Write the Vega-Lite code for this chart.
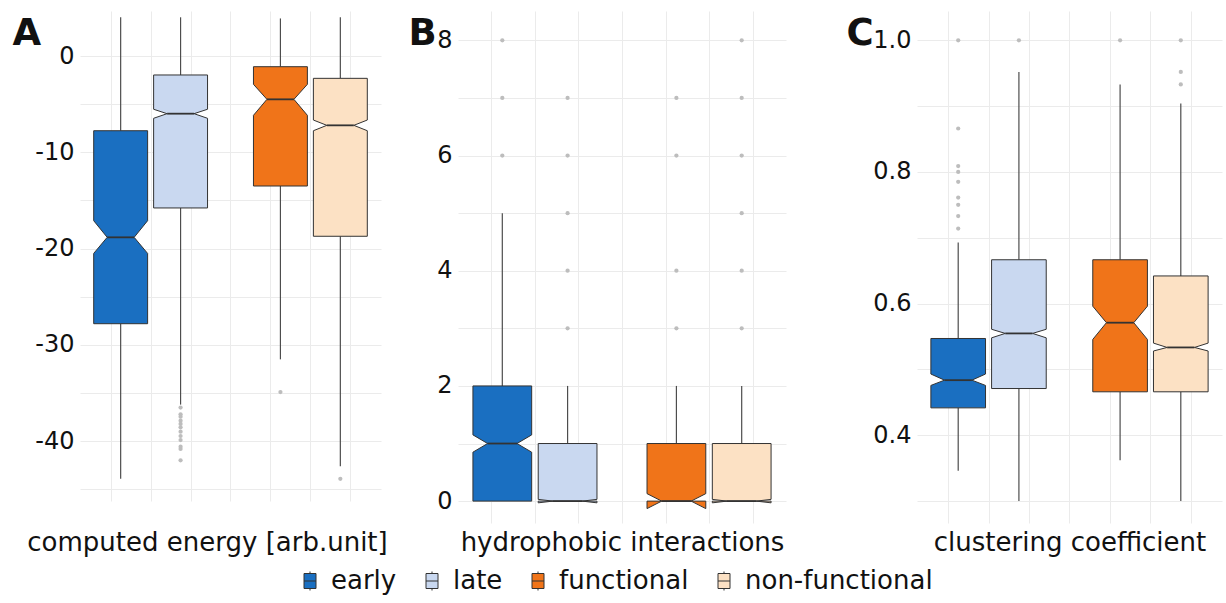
{
"$schema":"https://vega.github.io/schema/vega-lite/v6.json",
"padding":{"left":12,"top":11,"right":4,"bottom":4},
"datasets":{
"boxes":[
{"metric":"energy","group":"early","lo":-43.9,"q1":-27.8,"nlo":-20.5,"med":-18.83,"nhi":-17.1,"q3":-7.76,"hi":4.02},
{"metric":"energy","group":"late","lo":-36.2,"q1":-15.78,"nlo":-6.47,"med":-5.99,"nhi":-5.53,"q3":-1.97,"hi":4.02},
{"metric":"energy","group":"functional","lo":-31.5,"q1":-13.5,"nlo":-6.16,"med":-4.5,"nhi":-2.94,"q3":-1.11,"hi":3.9},
{"metric":"energy","group":"non-functional","lo":-42.6,"q1":-18.72,"nlo":-7.76,"med":-7.2,"nhi":-6.65,"q3":-2.32,"hi":4.02},
{"metric":"hydro","group":"early","lo":0,"q1":0,"nlo":0.85,"med":1,"nhi":1.15,"q3":2,"hi":5},
{"metric":"hydro","group":"late","lo":0,"q1":0,"nlo":-0.03,"med":0,"nhi":0.03,"q3":1,"hi":2},
{"metric":"hydro","group":"functional","lo":0,"q1":0,"nlo":-0.13,"med":0,"nhi":0.13,"q3":1,"hi":2},
{"metric":"hydro","group":"non-functional","lo":0,"q1":0,"nlo":-0.03,"med":0,"nhi":0.03,"q3":1,"hi":2},
{"metric":"cluster","group":"early","lo":0.346,"q1":0.4416,"nlo":0.4757,"med":0.4837,"nhi":0.493,"q3":0.547,"hi":0.693},
{"metric":"cluster","group":"late","lo":0.3,"q1":0.471,"nlo":0.548,"med":0.5547,"nhi":0.561,"q3":0.6666,"hi":0.952},
{"metric":"cluster","group":"functional","lo":0.362,"q1":0.466,"nlo":0.5456,"med":0.571,"nhi":0.596,"q3":0.6666,"hi":0.933},
{"metric":"cluster","group":"non-functional","lo":0.3,"q1":0.466,"nlo":0.528,"med":0.5334,"nhi":0.54,"q3":0.642,"hi":0.904}
],
"outliers":[
{"metric":"energy","group":"late","value":-36.51},{"metric":"energy","group":"late","value":-37.21},{"metric":"energy","group":"late","value":-37.45},{"metric":"energy","group":"late","value":-37.87},{"metric":"energy","group":"late","value":-38.21},{"metric":"energy","group":"late","value":-38.56},{"metric":"energy","group":"late","value":-39.01},{"metric":"energy","group":"late","value":-39.46},{"metric":"energy","group":"late","value":-39.88},{"metric":"energy","group":"late","value":-40.57},{"metric":"energy","group":"late","value":-40.81},{"metric":"energy","group":"late","value":-41.98},
{"metric":"energy","group":"functional","value":-34.9},
{"metric":"energy","group":"non-functional","value":-43.9},
{"metric":"hydro","group":"early","value":6},{"metric":"hydro","group":"early","value":7},{"metric":"hydro","group":"early","value":8},
{"metric":"hydro","group":"late","value":3},{"metric":"hydro","group":"late","value":4},{"metric":"hydro","group":"late","value":5},{"metric":"hydro","group":"late","value":6},{"metric":"hydro","group":"late","value":7},
{"metric":"hydro","group":"functional","value":3},{"metric":"hydro","group":"functional","value":4},{"metric":"hydro","group":"functional","value":6},{"metric":"hydro","group":"functional","value":7},
{"metric":"hydro","group":"non-functional","value":3},{"metric":"hydro","group":"non-functional","value":4},{"metric":"hydro","group":"non-functional","value":5},{"metric":"hydro","group":"non-functional","value":6},{"metric":"hydro","group":"non-functional","value":7},{"metric":"hydro","group":"non-functional","value":8},
{"metric":"cluster","group":"early","value":0.714},{"metric":"cluster","group":"early","value":0.733},{"metric":"cluster","group":"early","value":0.75},{"metric":"cluster","group":"early","value":0.761},{"metric":"cluster","group":"early","value":0.785},{"metric":"cluster","group":"early","value":0.8},{"metric":"cluster","group":"early","value":0.809},{"metric":"cluster","group":"early","value":0.866},{"metric":"cluster","group":"early","value":1.0},
{"metric":"cluster","group":"late","value":1.0},
{"metric":"cluster","group":"functional","value":1.0},
{"metric":"cluster","group":"non-functional","value":0.933},{"metric":"cluster","group":"non-functional","value":0.952},{"metric":"cluster","group":"non-functional","value":1.0}
]
},
"hconcat":[
{
"width":301,"height":490,
"layer":[
{"data":{"name":"boxes"},"transform":[{"filter":"datum.metric === 'energy'"},{"calculate":"[1.125,1.875,3.125,3.875][indexof(['early','late','functional','non-functional'], datum.group)]","as":"pos"}],
"mark":{"type":"rule","color":"#4d4d4d","strokeWidth":1.2},
"encoding":{"x":{"field":"pos","type":"quantitative","scale":{"domain":[0.616,4.384],"nice":false,"zero":false},"axis":{"title":"computed energy [arb.unit]","labels":false,"values":[1,1.5,2,2.5,3,3.5,4],"titlePadding":28,"titleX":127}},
"y":{"field":"lo","type":"quantitative","scale":{"domain":[-46.21,4.673],"nice":false,"zero":false},"axis":{"title":"A","titleAngle":0,"titleAlign":"left","titleBaseline":"alphabetic","titleX":-68,"titleY":33,"titleFontSize":37,"titleFontWeight":"bold","values":[-45,-40,-35,-30,-25,-20,-15,-10,-5,0],"labelExpr":"datum.value % 10 === 0 ? '' + datum.value : ''","labelPadding":6}},
"y2":{"field":"q1"}}},
{"data":{"name":"boxes"},"transform":[{"filter":"datum.metric === 'energy'"},{"calculate":"[1.125,1.875,3.125,3.875][indexof(['early','late','functional','non-functional'], datum.group)]","as":"pos"}],
"mark":{"type":"rule","color":"#4d4d4d","strokeWidth":1.2},
"encoding":{"x":{"field":"pos","type":"quantitative"},"y":{"field":"q3","type":"quantitative"},"y2":{"field":"hi"}}},
{"data":{"name":"boxes"},"transform":[{"filter":"datum.metric === 'energy'"},{"calculate":"[1.125,1.875,3.125,3.875][indexof(['early','late','functional','non-functional'], datum.group)]","as":"pos"},{"fold":["q1","nlo","med","nhi","q3"],"as":["k","v"]},{"calculate":"datum.pos - 0.3375 * (datum.k === 'med' ? 0.5 : 1)","as":"xl"},{"calculate":"datum.pos + 0.3375 * (datum.k === 'med' ? 0.5 : 1)","as":"xr"}],
"mark":{"type":"area","orient":"horizontal","stroke":"#333","strokeWidth":1,"fillOpacity":1},
"encoding":{"y":{"field":"v","type":"quantitative"},"x":{"field":"xl","type":"quantitative"},"x2":{"field":"xr"},"order":{"value":null},
"fill":{"field":"group","type":"nominal","scale":{"domain":["early","late","functional","non-functional"],"range":["#1a6fc1","#c9d8f0","#f07419","#fce1c4"]},"legend":{"title":null,"orient":"none","legendX":217,"legendY":557,"direction":"horizontal","columns":4,"symbolType":"M-0.6,-0.75H0.6V0.75H-0.6Z M0,-0.75V-0.95 M0,0.75V0.95 M-0.6,0H0.6","symbolSize":400,"symbolStrokeColor":"#333","symbolStrokeWidth":1,"labelFontSize":26,"labelOffset":8,"columnPadding":22,"labelLimit":400}}}},
{"data":{"name":"boxes"},"transform":[{"filter":"datum.metric === 'energy'"},{"calculate":"[1.125,1.875,3.125,3.875][indexof(['early','late','functional','non-functional'], datum.group)]","as":"pos"},{"calculate":"datum.pos - 0.16875","as":"ml"},{"calculate":"datum.pos + 0.16875","as":"mr"}],
"mark":{"type":"rule","color":"#333","strokeWidth":1.8},
"encoding":{"x":{"field":"ml","type":"quantitative"},"x2":{"field":"mr"},"y":{"field":"med","type":"quantitative"}}},
{"data":{"name":"outliers"},"transform":[{"filter":"datum.metric === 'energy'"},{"calculate":"[1.125,1.875,3.125,3.875][indexof(['early','late','functional','non-functional'], datum.group)]","as":"pos"}],
"mark":{"type":"circle","color":"#bdbdbd","size":18,"opacity":1},
"encoding":{"x":{"field":"pos","type":"quantitative"},"y":{"field":"value","type":"quantitative"}}}
]
},
{
"spacing":131,"bounds":"flush",
"hconcat":[
{
"width":328,"height":512,
"layer":[
{"data":{"name":"boxes"},"transform":[{"filter":"datum.metric === 'hydro'"},{"calculate":"[1.125,1.875,3.125,3.875][indexof(['early','late','functional','non-functional'], datum.group)]","as":"pos"}],
"mark":{"type":"rule","color":"#4d4d4d","strokeWidth":1.2},
"encoding":{"x":{"field":"pos","type":"quantitative","scale":{"domain":[0.616,4.384],"nice":false,"zero":false},"axis":{"title":"hydrophobic interactions","labels":false,"values":[1,1.5,2,2.5,3,3.5,4],"titlePadding":6}},
"y":{"field":"lo","type":"quantitative","scale":{"domain":[-0.38,8.51],"nice":false,"zero":false},"axis":{"title":"B","titleAngle":0,"titleAlign":"left","titleBaseline":"alphabetic","titleX":-50,"titleY":33,"titleFontSize":37,"titleFontWeight":"bold","values":[0,1,2,3,4,5,6,7,8],"labelExpr":"datum.value % 2 === 0 ? '' + datum.value : ''","labelPadding":6}},
"y2":{"field":"q1"}}},
{"data":{"name":"boxes"},"transform":[{"filter":"datum.metric === 'hydro'"},{"calculate":"[1.125,1.875,3.125,3.875][indexof(['early','late','functional','non-functional'], datum.group)]","as":"pos"}],
"mark":{"type":"rule","color":"#4d4d4d","strokeWidth":1.2},
"encoding":{"x":{"field":"pos","type":"quantitative"},"y":{"field":"q3","type":"quantitative"},"y2":{"field":"hi"}}},
{"data":{"name":"boxes"},"transform":[{"filter":"datum.metric === 'hydro'"},{"calculate":"[1.125,1.875,3.125,3.875][indexof(['early','late','functional','non-functional'], datum.group)]","as":"pos"},{"fold":["q1","nlo","med","nhi","q3"],"as":["k","v"]},{"calculate":"datum.pos - 0.3375 * (datum.k === 'med' ? 0.5 : 1)","as":"xl"},{"calculate":"datum.pos + 0.3375 * (datum.k === 'med' ? 0.5 : 1)","as":"xr"}],
"mark":{"type":"area","orient":"horizontal","stroke":"#333","strokeWidth":1,"fillOpacity":1},
"encoding":{"y":{"field":"v","type":"quantitative"},"x":{"field":"xl","type":"quantitative"},"x2":{"field":"xr"},"order":{"value":null},
"fill":{"field":"group","type":"nominal","scale":{"domain":["early","late","functional","non-functional"],"range":["#1a6fc1","#c9d8f0","#f07419","#fce1c4"]},"legend":{"title":null,"orient":"none","legendX":217,"legendY":557,"direction":"horizontal","columns":4,"symbolType":"M-0.6,-0.75H0.6V0.75H-0.6Z M0,-0.75V-0.95 M0,0.75V0.95 M-0.6,0H0.6","symbolSize":400,"symbolStrokeColor":"#333","symbolStrokeWidth":1,"labelFontSize":26,"labelOffset":8,"columnPadding":22,"labelLimit":400}}}},
{"data":{"name":"boxes"},"transform":[{"filter":"datum.metric === 'hydro'"},{"calculate":"[1.125,1.875,3.125,3.875][indexof(['early','late','functional','non-functional'], datum.group)]","as":"pos"},{"calculate":"datum.pos - 0.16875","as":"ml"},{"calculate":"datum.pos + 0.16875","as":"mr"}],
"mark":{"type":"rule","color":"#333","strokeWidth":1.8},
"encoding":{"x":{"field":"ml","type":"quantitative"},"x2":{"field":"mr"},"y":{"field":"med","type":"quantitative"}}},
{"data":{"name":"outliers"},"transform":[{"filter":"datum.metric === 'hydro'"},{"calculate":"[1.125,1.875,3.125,3.875][indexof(['early','late','functional','non-functional'], datum.group)]","as":"pos"}],
"mark":{"type":"circle","color":"#bdbdbd","size":18,"opacity":1},
"encoding":{"x":{"field":"pos","type":"quantitative"},"y":{"field":"value","type":"quantitative"}}}
]
},
{
"width":305,"height":512,
"layer":[
{"data":{"name":"boxes"},"transform":[{"filter":"datum.metric === 'cluster'"},{"calculate":"[1.125,1.875,3.125,3.875][indexof(['early','late','functional','non-functional'], datum.group)]","as":"pos"}],
"mark":{"type":"rule","color":"#4d4d4d","strokeWidth":1.2},
"encoding":{"x":{"field":"pos","type":"quantitative","scale":{"domain":[0.616,4.384],"nice":false,"zero":false},"axis":{"title":"clustering coefficient","labels":false,"values":[1,1.5,2,2.5,3,3.5,4],"titlePadding":6}},
"y":{"field":"lo","type":"quantitative","scale":{"domain":[0.2667,1.0445],"nice":false,"zero":false},"axis":{"title":"C","titleAngle":0,"titleAlign":"left","titleBaseline":"alphabetic","titleX":-71,"titleY":33,"titleFontSize":37,"titleFontWeight":"bold","values":[0.3,0.4,0.5,0.6,0.7,0.8,0.9,1.0],"labelExpr":"round(datum.value * 10) % 2 === 0 ? format(datum.value, '.1f') : ''","labelPadding":6}},
"y2":{"field":"q1"}}},
{"data":{"name":"boxes"},"transform":[{"filter":"datum.metric === 'cluster'"},{"calculate":"[1.125,1.875,3.125,3.875][indexof(['early','late','functional','non-functional'], datum.group)]","as":"pos"}],
"mark":{"type":"rule","color":"#4d4d4d","strokeWidth":1.2},
"encoding":{"x":{"field":"pos","type":"quantitative"},"y":{"field":"q3","type":"quantitative"},"y2":{"field":"hi"}}},
{"data":{"name":"boxes"},"transform":[{"filter":"datum.metric === 'cluster'"},{"calculate":"[1.125,1.875,3.125,3.875][indexof(['early','late','functional','non-functional'], datum.group)]","as":"pos"},{"fold":["q1","nlo","med","nhi","q3"],"as":["k","v"]},{"calculate":"datum.pos - 0.3375 * (datum.k === 'med' ? 0.5 : 1)","as":"xl"},{"calculate":"datum.pos + 0.3375 * (datum.k === 'med' ? 0.5 : 1)","as":"xr"}],
"mark":{"type":"area","orient":"horizontal","stroke":"#333","strokeWidth":1,"fillOpacity":1},
"encoding":{"y":{"field":"v","type":"quantitative"},"x":{"field":"xl","type":"quantitative"},"x2":{"field":"xr"},"order":{"value":null},
"fill":{"field":"group","type":"nominal","scale":{"domain":["early","late","functional","non-functional"],"range":["#1a6fc1","#c9d8f0","#f07419","#fce1c4"]},"legend":{"title":null,"orient":"none","legendX":217,"legendY":557,"direction":"horizontal","columns":4,"symbolType":"M-0.6,-0.75H0.6V0.75H-0.6Z M0,-0.75V-0.95 M0,0.75V0.95 M-0.6,0H0.6","symbolSize":400,"symbolStrokeColor":"#333","symbolStrokeWidth":1,"labelFontSize":26,"labelOffset":8,"columnPadding":22,"labelLimit":400}}}},
{"data":{"name":"boxes"},"transform":[{"filter":"datum.metric === 'cluster'"},{"calculate":"[1.125,1.875,3.125,3.875][indexof(['early','late','functional','non-functional'], datum.group)]","as":"pos"},{"calculate":"datum.pos - 0.16875","as":"ml"},{"calculate":"datum.pos + 0.16875","as":"mr"}],
"mark":{"type":"rule","color":"#333","strokeWidth":1.8},
"encoding":{"x":{"field":"ml","type":"quantitative"},"x2":{"field":"mr"},"y":{"field":"med","type":"quantitative"}}},
{"data":{"name":"outliers"},"transform":[{"filter":"datum.metric === 'cluster'"},{"calculate":"[1.125,1.875,3.125,3.875][indexof(['early','late','functional','non-functional'], datum.group)]","as":"pos"}],
"mark":{"type":"circle","color":"#bdbdbd","size":18,"opacity":1},
"encoding":{"x":{"field":"pos","type":"quantitative"},"y":{"field":"value","type":"quantitative"}}}
]
}
]
}
],
"spacing":77,"bounds":"flush",
"config":{
"view":{"stroke":null},
"font":"DejaVu Sans",
"axis":{"gridColor":"#ebebeb","gridWidth":1,"labelColor":"#111","titleColor":"#111","labelFontSize":24,"titleFontSize":26,"titleFontWeight":"normal","ticks":false,"domain":false,"labelOverlap":false,"titleLimit":1000,"labelFont":"DejaVu Sans","titleFont":"DejaVu Sans"},
"legend":{"labelColor":"#111","labelFont":"DejaVu Sans"}
}
}
